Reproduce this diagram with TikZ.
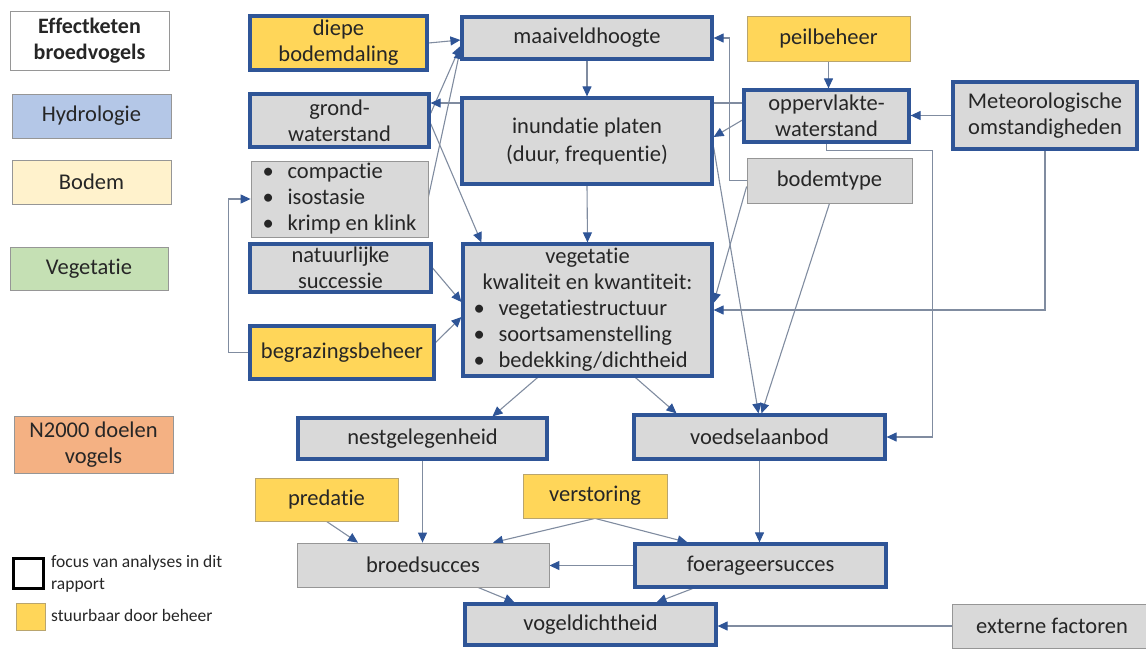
\documentclass[tikz,border=0pt]{standalone}
\usepackage{fontspec}
\setmainfont{Carlito}[Ligatures={NoCommon}]
\usepackage{tikz}
\usetikzlibrary{arrows.meta,backgrounds}

\definecolor{kaderblauw}{RGB}{47,85,151}
\definecolor{vakgrijs}{RGB}{217,217,217}
\definecolor{beheergeel}{RGB}{255,214,89}
\definecolor{beheerrand}{RGB}{185,165,110}
\definecolor{lijngrijs}{RGB}{128,140,160}
\definecolor{randgrijs}{RGB}{150,150,150}
\definecolor{hydroblauw}{RGB}{180,199,231}
\definecolor{bodemgeel}{RGB}{255,242,204}
\definecolor{vegegroen}{RGB}{197,224,180}
\definecolor{doeloranje}{RGB}{244,177,131}
\definecolor{tekstgrijs}{RGB}{38,38,38}

\newcommand{\opsom}[1]{\makebox[25pt][l]{\textbullet}#1}

\begin{document}
\begin{tikzpicture}[x=1pt,y=-1pt,font=\fontsize{22.5}{26}\selectfont]
 \tikzstyle{basis} = [inner sep=1pt,align=center,text=tekstgrijs]
 \tikzstyle{focus} = [basis,draw=kaderblauw,line width=3.2pt,fill=vakgrijs]
 \tikzstyle{focusgeel} = [focus,fill=beheergeel]
 \tikzstyle{grijsvak} = [basis,draw=randgrijs,line width=0.8pt,fill=vakgrijs]
 \tikzstyle{geelvak} = [basis,draw=beheerrand,line width=0.8pt,fill=beheergeel]
 \tikzstyle{legenda} = [basis,draw=randgrijs,line width=0.8pt]
 \tikzstyle{pijl} = [draw=lijngrijs,line width=1.1pt,-{Triangle[length=10pt,width=9pt,color=kaderblauw]}]

  \useasboundingbox (0,0) rectangle (1146,648);

  % Legenda
  \node[legenda,font=\bfseries\fontsize{22}{26}\selectfont,minimum width=159pt,minimum height=59pt] (effect) at (89.5,40.5) {Effectketen\\broedvogels};
  \node[legenda,fill=hydroblauw,minimum width=159pt,minimum height=44pt] (hydro) at (91.5,116) {Hydrologie};
  \node[legenda,fill=bodemgeel,minimum width=159pt,minimum height=44pt] (bodem) at (91.5,182) {Bodem};
  \node[legenda,fill=vegegroen,minimum width=158pt,minimum height=43pt] (vege) at (89,268.5) {Vegetatie};
  \node[legenda,fill=doeloranje,minimum width=159pt,minimum height=57pt] (doelen) at (93.5,444.5) {N2000 doelen\\vogels};

  \node[draw=black,line width=3pt,minimum size=30pt,inner sep=0pt] (focusvb) at (28.5,573.5) {};
  \node[basis,anchor=west,align=left,font=\fontsize{17.5}{22}\selectfont] (focustekst) at (50,574) {focus van analyses in dit\\rapport};
  \node[geelvak,minimum width=29pt,minimum height=27pt,inner sep=0pt] (geelvb) at (30.5,616.5) {};
  \node[basis,anchor=west,font=\fontsize{17.5}{22}\selectfont] (geeltekst) at (50,615) {stuurbaar door beheer};

  % Bodem en hydrologie
  \node[focusgeel,minimum width=177pt,minimum height=54pt] (diepe) at (338.5,43) {diepe\\bodemdaling};
  \node[focus,minimum width=179pt,minimum height=53pt] (grond) at (339.5,120.5) {grond-\\waterstand};
  \node[grijsvak,align=left,minimum width=177pt,minimum height=76pt] (compactie) at (339.5,199) {\opsom{compactie}\\\opsom{isostasie}\\\opsom{krimp en klink}};
  \node[focus,minimum width=181pt,minimum height=48pt] (natuur) at (340.5,268) {natuurlijke\\successie};
  \node[focusgeel,minimum width=184pt,minimum height=53pt] (begraz) at (342,352.5) {begrazingsbeheer};

  \node[focus,minimum width=250pt,minimum height=42pt] (maaiveld) at (587,38) {maaiveldhoogte};
  \node[focus,minimum width=250pt,minimum height=86pt] (inund) at (587,141) {inundatie platen\\[2pt](duur, frequentie)};
  \node[focus,minimum width=249pt,minimum height=132pt] (vegetatie) at (587.5,310) {vegetatie\\kwaliteit en kwantiteit:\\\makebox[228pt][l]{\opsom{vegetatiestructuur}}\\\makebox[228pt][l]{\opsom{soortsamenstelling}}\\\makebox[228pt][l]{\opsom{bedekking/dichtheid}}};

  \node[geelvak,minimum width=163pt,minimum height=45pt] (peil) at (828.5,38.5) {peilbeheer};
  \node[focus,minimum width=165pt,minimum height=52pt] (opp) at (826.5,116) {oppervlakte-\\waterstand};
  \node[focus,minimum width=184pt,minimum height=67pt] (meteo) at (1045,115.5) {Meteorologische\\omstandigheden};
  \node[grijsvak,minimum width=165pt,minimum height=45pt] (bodemtype) at (829.5,180.5) {bodemtype};

  % Broedvogels
  \node[focus,minimum width=249pt,minimum height=41pt] (nest) at (422.5,438.5) {nestgelegenheid};
  \node[focus,minimum width=251pt,minimum height=44pt] (voedsel) at (759.5,437) {voedselaanbod};
  \node[geelvak,minimum width=143pt,minimum height=43pt] (predatie) at (326.5,499.5) {predatie};
  \node[geelvak,minimum width=144pt,minimum height=44pt] (verstoring) at (595,496) {verstoring};
  \node[grijsvak,minimum width=252pt,minimum height=44pt] (broed) at (423,565) {broedsucces};
  \node[focus,minimum width=251pt,minimum height=43pt] (foerag) at (760.5,565.5) {foerageersucces};
  \node[focus,minimum width=251pt,minimum height=41pt] (vogel) at (590.5,624.5) {vogeldichtheid};
  \node[grijsvak,minimum width=200pt,minimum height=44pt] (extern) at (1052,626) {externe factoren};

  % Verbindingen
  \begin{pgfonlayer}{background}
  \draw[pijl] (diepe.east) -- ([yshift=-2pt]maaiveld.west);
  \draw[pijl] ([yshift=7pt]grond.east) -- ([yshift=-8pt]maaiveld.west);
  \draw[pijl] ([yshift=2pt]compactie.east) -- ([yshift=-11pt]maaiveld.west);
  \draw[pijl] ([yshift=-3pt]grond.east) -- ([xshift=20pt]vegetatie.north west);

  \coordinate (oppuit) at ([yshift=13pt]opp.west);
  \draw[pijl] (oppuit) -- (oppuit -| grond.east);
  \draw[pijl] ([yshift=-4pt]opp.west) -- ([yshift=4pt]inund.east);
  \draw[pijl] (peil.south) -- (peil.south |- opp.north);
  \draw[pijl] (meteo.west) -- (meteo.west -| opp.east);
  \draw[pijl] (maaiveld.south) -- (inund.north);
  \draw[pijl] (inund.south) -- (vegetatie.north);

  \draw[pijl] (bodemtype.west) -- ++(-17,0) |- (maaiveld.east);
  \draw[pijl] ([yshift=-6pt]bodemtype.west) -- ([yshift=7pt]vegetatie.east);
  \draw[pijl] (bodemtype.south) -- ([xshift=2pt]voedsel.north);
  \draw[pijl] ([yshift=-6pt]inund.east) -- ([xshift=-1pt]voedsel.north);
  \draw[pijl] (opp.south) -- ++(0,7) -| ([xshift=46pt]voedsel.east) -- (voedsel.east);
  \draw[pijl] (meteo.south) |- (vegetatie.east);

  \draw[pijl] (begraz.west) -- ++(-20,0) |- (compactie.west);
  \draw[pijl] (natuur.east) -- ([yshift=8pt]vegetatie.west);
  \draw[pijl] ([yshift=10pt]begraz.east) -- ([yshift=-7pt]vegetatie.west);

  \draw[pijl] ([xshift=-50pt]vegetatie.south) -- ([xshift=70pt]nest.north);
  \draw[pijl] ([xshift=48pt]vegetatie.south) -- ([xshift=-83pt]voedsel.north);
  \draw[pijl] (nest.south) -- (nest.south |- broed.north);
  \draw[pijl] (predatie.south) -- ([xshift=-65pt]broed.north);
  \draw[pijl] (verstoring.south) -- ([xshift=70pt]broed.north);
  \draw[pijl] (verstoring.south) -- ([xshift=-73pt]foerag.north);
  \draw[pijl] (voedsel.south) -- (voedsel.south |- foerag.north);
  \draw[pijl] (foerag.west) -- (foerag.west -| broed.east);
  \draw[pijl] ([xshift=55pt]broed.south) -- ([xshift=-76pt]vogel.north);
  \draw[pijl] ([xshift=-68pt]foerag.south) -- ([xshift=66pt]vogel.north);
  \draw[pijl] (extern.west) -- (extern.west -| vogel.east);
  \end{pgfonlayer}

\end{tikzpicture}
\end{document}
